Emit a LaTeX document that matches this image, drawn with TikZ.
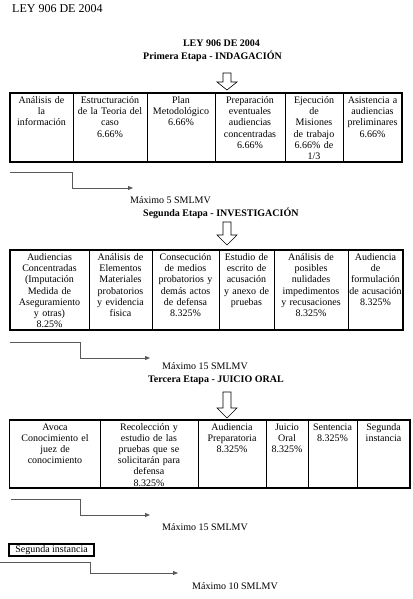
\documentclass[tikz,border=0pt]{standalone}
\usepackage{fontspec}
\setmainfont{Liberation Serif}
\usetikzlibrary{arrows.meta}
\newcommand\mydownarrow[4]{\draw[blk] (#1,#2) ++(-4,0) -- ++(8,0) -- ++(0,#3) -- ++(6,0) -- ++(-10,#4) -- ++(-10,-#4) -- ++(6,0) -- cycle;}
\begin{document}
\begin{tikzpicture}[x=1pt,y=-1pt,
  cell/.style={anchor=base, text width=90pt, align=center, inner sep=0pt, font=\fontsize{10}{11.2}\selectfont},
  lbl/.style={anchor=base west, inner sep=0pt, font=\fontsize{10}{12}\selectfont},
  blbl/.style={anchor=base west, inner sep=0pt, font=\fontsize{10}{12}\selectfont\bfseries},
  conn/.style={draw=black!65, line width=0.8pt, -{Triangle[length=5pt,width=4pt]}},
  blk/.style={draw=black, line width=0.6pt, fill=white},
  innerline/.style={draw=black, line width=1pt},
  outerline/.style={draw=black, line width=1.5pt}]
\useasboundingbox (0,0) rectangle (412,599);

% titles
\node[anchor=base west, inner sep=0pt, font=\fontsize{12}{14}\selectfont] (title) at (12,12.5) {LEY 906 DE 2004};
\node[anchor=base, inner sep=0pt, font=\fontsize{10}{12}\selectfont\bfseries] (ley) at (221.5,46.5) {LEY 906 DE 2004};
\node[blbl] (et1) at (143,59.5) {Primera Etapa - INDAGACIÓN};

% arrow 1
\mydownarrow{227}{73}{9}{8}

% table 1
\foreach \x in {73,147,215,285,343} \draw[innerline] (\x,93) -- (\x,162);
\draw[outerline] (10,93) rectangle (402,162);
\node[cell] (t1a) at (41.5,103.5) {Análisis de\\la\\información};
\node[cell] (t1b) at (110,103.5) {Estructuración\\de la Teoria del\\caso\\6.66\%};
\node[cell] (t1c) at (181,103.5) {Plan\\Metodológico\\6.66\%};
\node[cell] (t1d) at (250,103.5) {Preparación\\eventuales\\audiencias\\concentradas\\6.66\%};
\node[cell] (t1e) at (314,103.5) {Ejecución\\de\\Misiones\\de trabajo\\6.66\% de\\1/3};
\node[cell] (t1f) at (372.5,103.5) {Asistencia a\\audiencias\\preliminares\\6.66\%};

% connector 1
\coordinate (c1s) at (10,172);
\coordinate (c1e) at (133,188);
\draw[conn] (c1s) -- ++(62,0) |- (c1e);
\node[lbl] (m1) at (130,203.5) {Máximo 5 SMLMV};
\node[blbl] (et2) at (143,216.5) {Segunda Etapa - INVESTIGACIÓN};

% arrow 2
\mydownarrow{227}{222}{13}{10}

% table 2
\foreach \x in {89,152,219,274,348} \draw[innerline] (\x,250) -- (\x,330);
\draw[outerline] (10,250) rectangle (403,330);
\node[cell] (t2a) at (49.5,260.5) {Audiencias\\Concentradas\\(Imputación\\Medida de\\Aseguramiento\\y otras)\\8.25\%};
\node[cell] (t2b) at (120.5,260.5) {Análisis de\\Elementos\\Materiales\\probatorios\\y evidencia\\fisica};
\node[cell] (t2c) at (185.5,260.5) {Consecución\\de medios\\probatorios y\\demás actos\\de defensa\\8.325\%};
\node[cell] (t2d) at (246.5,260.5) {Estudio de\\escrito de\\acusación\\y anexo de\\pruebas};
\node[cell] (t2e) at (311,260.5) {Análisis de\\posibles\\nulidades\\impedimentos\\y recusaciones\\8.325\%};
\node[cell] (t2f) at (375.5,260.5) {Audiencia\\de\\formulación\\de acusación\\8.325\%};

% connector 2
\coordinate (c2s) at (10,342);
\coordinate (c2e) at (150,358);
\draw[conn] (c2s) -- ++(70,0) |- (c2e);
\node[lbl] (m2) at (162,369.5) {Máximo 15 SMLMV};
\node[blbl] (et3) at (148,382.5) {Tercera Etapa - JUICIO ORAL};

% arrow 3
\mydownarrow{227}{392}{16}{10}

% table 3
\foreach \x in {100,198,266,308,357} \draw[innerline] (\x,420) -- (\x,488);
\draw[outerline] (9.5,420) rectangle (410,488);
\node[cell] (t3a) at (55,430) {Avoca\\Conocimiento el\\juez de\\conocimiento};
\node[cell] (t3b) at (149,430) {Recolección y\\estudio de las\\pruebas que se\\solicitarán para\\defensa\\8.325\%};
\node[cell] (t3c) at (232,430) {Audiencia\\Preparatoria\\8.325\%};
\node[cell] (t3d) at (287,430) {Juicio\\Oral\\8.325\%};
\node[cell] (t3e) at (332.5,430) {Sentencia\\8.325\%};
\node[cell] (t3f) at (383.5,430) {Segunda\\instancia};

% connector 3
\coordinate (c3s) at (11,499);
\coordinate (c3e) at (150,515);
\draw[conn] (c3s) -- ++(69,0) |- (c3e);
\node[lbl] (m3) at (162,530.5) {Máximo 15 SMLMV};

% segunda instancia box
\node[draw=black, line width=1.2pt, minimum width=85pt, minimum height=12pt, inner sep=0pt, text height=7pt, text depth=2pt, font=\fontsize{10}{12}\selectfont] (si) at (51.5,550) {Segunda instancia};

% connector 4
\coordinate (c4s) at (0,562);
\coordinate (c4e) at (178,573);
\draw[conn] (c4s) -- ++(90,0) |- (c4e);
\node[lbl] (m4) at (192,589.5) {Máximo 10 SMLMV};
\end{tikzpicture}
\end{document}
